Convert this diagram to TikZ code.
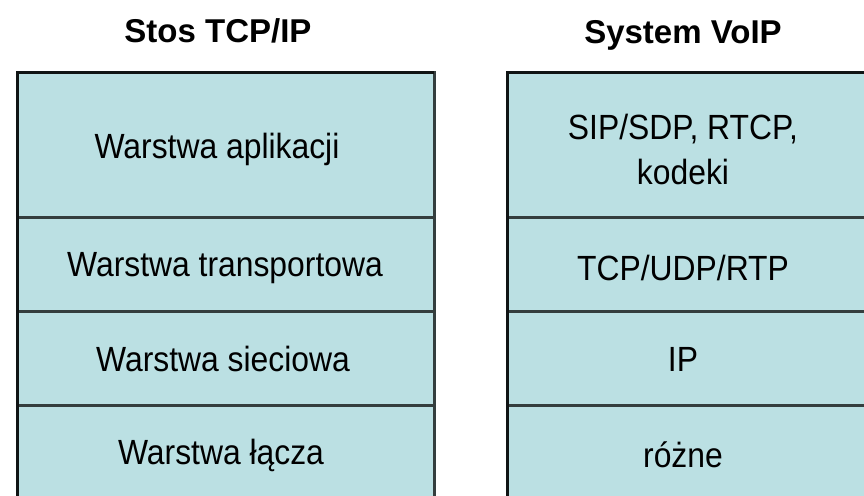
\documentclass[tikz,border=0pt]{standalone}
\usepackage{fontspec}
\usepackage{graphicx}
\setmainfont{Liberation Sans}
\definecolor{layerfill}{RGB}{187,224,227}
\definecolor{edgedark}{RGB}{16,20,20}
\definecolor{edgemid}{RGB}{52,62,62}
% slightly condensed lettering
\newcommand{\narrowtext}[1]{\scalebox{0.91}[1]{#1}}
\begin{document}
\begin{tikzpicture}[x=1pt,y=-1pt,
  layer/.style={fill=layerfill,draw=edgemid,line width=3pt},
  outer/.style={draw=edgedark,line width=3pt},
  title/.style={font=\bfseries\fontsize{33}{38}\selectfont,anchor=center},
  label/.style={font=\fontsize{35}{45}\selectfont,anchor=center,align=center}]
  \useasboundingbox (0,0) rectangle (864,495);
  \fill[white] (0,0) rectangle (864,495);
  \begin{scope}
    \clip (0,0) rectangle (864,495);
    % TCP/IP stack
    \draw[layer] (17,72) rectangle (434,217);
    \draw[layer] (17,217) rectangle (434,311);
    \draw[layer] (17,311) rectangle (434,405);
    \draw[layer] (17,405) rectangle (434,520);
    \draw[outer] (17,520) -- (17,72) -- (434,72);
    % VoIP system
    \draw[layer] (507,72) rectangle (870,217);
    \draw[layer] (507,217) rectangle (870,311);
    \draw[layer] (507,311) rectangle (870,405);
    \draw[layer] (507,405) rectangle (870,520);
    \draw[outer] (507,520) -- (507,72) -- (870,72);
  \end{scope}
  % headings
  \node[title] (t1) at (218,31) {Stos TCP/IP};
  \node[title] (t2) at (683,35) {System VoIP};
  % left column labels
  \node[label] (l1) at (217,149) {\narrowtext{Warstwa aplikacji}};
  \node[label] (l2) at (225,268) {\narrowtext{Warstwa transportowa}};
  \node[label] (l3) at (223,359) {\narrowtext{Warstwa sieciowa}};
  \node[label] (l4) at (221,455) {\narrowtext{Warstwa łącza}};
  % right column labels
  \node[label] (r1) at (683,149) {\narrowtext{SIP/SDP, RTCP,}\\\narrowtext{kodeki}};
  \node[label] (r2) at (683,268) {\narrowtext{TCP/UDP/RTP}};
  \node[label] (r3) at (683,359) {\narrowtext{IP}};
  \node[label] (r4) at (683,455) {\narrowtext{różne}};
\end{tikzpicture}
\end{document}
